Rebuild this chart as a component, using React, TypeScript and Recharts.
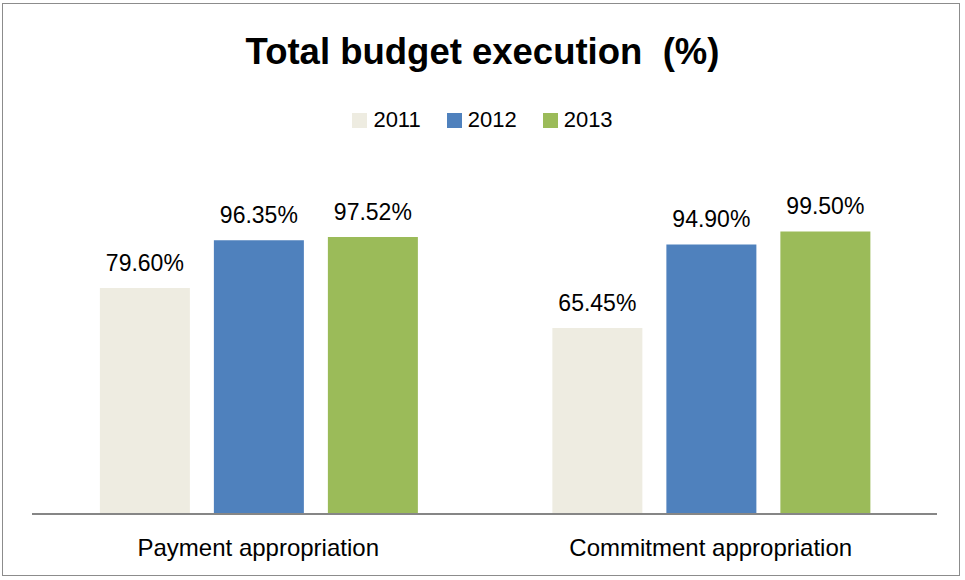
import React from 'react';
import { BarChart, Bar, XAxis, YAxis, LabelList } from 'recharts';

const categories = ['Payment appropriation', 'Commitment appropriation'];
const years = ['2011', '2012', '2013'];
const values2011 = [79.6, 65.45];
const values2012 = [96.35, 94.9];
const values2013 = [97.52, 99.5];
const colors = ['#EEECE1', '#4F81BD', '#9BBB59'];

const data = categories.map((name, i) => ({
  name,
  y2011: values2011[i],
  y2012: values2012[i],
  y2013: values2013[i],
}));

const FONT = '"Liberation Sans", Arial, sans-serif';

const fmt = (v: any) => `${Number(v).toFixed(2)}%`;
const labelStyle = { fontSize: 23, fill: '#000', fontFamily: FONT };

export default function App() {
  return (
    <div
      style={{
        position: 'absolute',
        left: 0,
        top: 0,
        width: 965,
        height: 580,
        background: '#fff',
        fontFamily: FONT,
      }}
    >
      <div
        style={{
          position: 'absolute',
          left: 2,
          top: 3,
          width: 958,
          height: 573,
          border: '1.5px solid #8c8c8c',
          boxSizing: 'border-box',
        }}
      />
      <div
        style={{
          position: 'absolute',
          left: 0,
          width: 965,
          top: 31,
          textAlign: 'center',
          fontSize: 36.5,
          fontWeight: 'bold',
          color: '#000',
          whiteSpace: 'pre',
        }}
      >
        {'Total budget execution  (%)'}
      </div>
      <div
        style={{
          position: 'absolute',
          left: 0,
          width: 965,
          top: 107,
          display: 'flex',
          justifyContent: 'center',
          fontSize: 22,
          color: '#000',
        }}
      >
        {years.map((y, i) => (
          <div key={y} style={{ display: 'flex', alignItems: 'center', marginRight: i < 2 ? 26 : 0 }}>
            <span style={{ width: 15, height: 15, background: colors[i], marginRight: 6, display: 'inline-block' }} />
            <span>{y}</span>
          </div>
        ))}
      </div>
      <div style={{ position: 'absolute', left: 0, top: 0 }}>
        <BarChart
          width={965}
          height={580}
          data={data}
          margin={{ top: 230, right: 28, left: 32, bottom: 0 }}
          barCategoryGap="15%"
          barGap={24}
        >
          <XAxis
            dataKey="name"
            height={66}
            tickLine={false}
            axisLine={{ stroke: '#868686', strokeWidth: 2 }}
            tick={{ fontSize: 24, fill: '#000', fontFamily: FONT }}
            tickMargin={19}
          />
          <YAxis hide domain={[0, 100]} />
          <Bar dataKey="y2011" fill={colors[0]} isAnimationActive={false}>
            <LabelList dataKey="y2011" position="top" offset={17} formatter={fmt} style={labelStyle} />
          </Bar>
          <Bar dataKey="y2012" fill={colors[1]} isAnimationActive={false}>
            <LabelList dataKey="y2012" position="top" offset={17} formatter={fmt} style={labelStyle} />
          </Bar>
          <Bar dataKey="y2013" fill={colors[2]} isAnimationActive={false}>
            <LabelList dataKey="y2013" position="top" offset={17} formatter={fmt} style={labelStyle} />
          </Bar>
        </BarChart>
      </div>
    </div>
  );
}
